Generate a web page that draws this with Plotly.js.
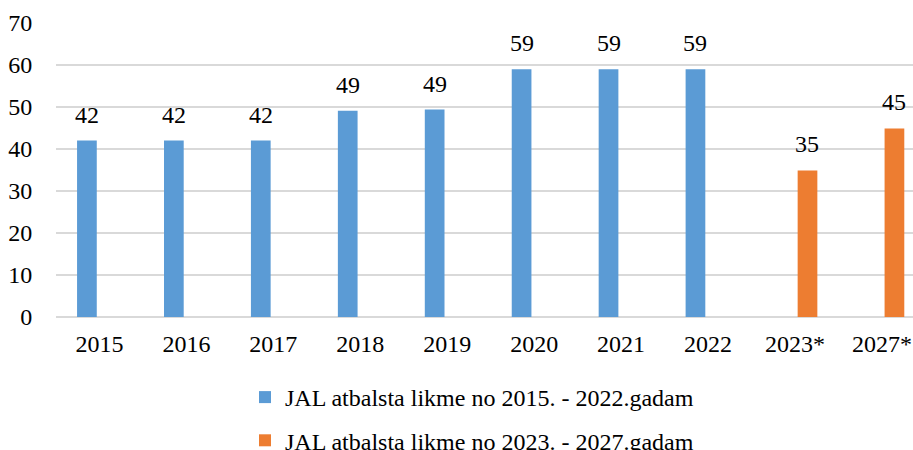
<!DOCTYPE html>
<html>
<head>
<meta charset="utf-8">
<script src="https://cdn.plot.ly/plotly-3.0.1.min.js"></script>
<style>html,body{margin:0;padding:0;background:#fff;}
#chart{width:913px;height:450px;position:relative;z-index:1;background:#fff;}
#fontwarm{position:absolute;left:10px;top:10px;z-index:0;font-family:'Liberation Serif',serif;font-size:24px;color:transparent;}</style>
</head>
<body>
<div id="fontwarm">0</div>
<div id="chart"></div>
<script>
const categories = ['2015','2016','2017','2018','2019','2020','2021','2022','2023*','2027*'];
const seriesA = [42, 42, 42, 49.1, 49.4, 59, 59, 59, null, null];
const seriesB = [null, null, null, null, null, null, null, null, 34.9, 44.9];
const nameA = 'JAL atbalsta likme no 2015. - 2022.gadam';
const nameB = 'JAL atbalsta likme no 2023. - 2027.gadam';
const yTicks = [0, 10, 20, 30, 40, 50, 60, 70];

const FONT = 'Liberation Serif, Times New Roman, serif';
const barW = 0.2267;
const offA = -0.2577, offB = 0.0311;
const pxShift = 12.55;

const traces = [
  {type:'bar', x:categories, y:seriesA, name:nameA, marker:{color:'#5B9BD5'},
   width:barW, offset:offA, legendgroup:'a', hoverinfo:'x+y'},
  {type:'bar', x:categories, y:seriesB, name:nameB, marker:{color:'#ED7D31'},
   width:barW, offset:offB, legendgroup:'b', hoverinfo:'x+y'}
];

const annotations = [];
function addLabels(vals, shift){
  vals.forEach((v,i)=>{
    if(v===null) return;
    annotations.push({x:i, y:v, xref:'x', yref:'y', text:String(Math.round(v)),
      showarrow:false, yanchor:'bottom', xanchor:'center', xshift:shift, yshift:11,
      font:{family:FONT, size:24, color:'#000'}});
  });
}
addLabels(seriesA, -pxShift);
addLabels(seriesB, pxShift);

const layout = {
  width:913, height:450,
  margin:{l:56.3, r:0, t:23, b:133, autoexpand:false},
  paper_bgcolor:'#fff', plot_bgcolor:'#fff',
  font:{family:FONT, size:24, color:'#000'},
  barmode:'group',
  showlegend:true,
  legend:{orientation:'v', x:245/913, xref:'container', xanchor:'left', y:(450-375)/450, yref:'container', yanchor:'top',
          tracegroupgap:9, bgcolor:'rgba(0,0,0,0)', font:{family:FONT, size:24, color:'#000'}},
  xaxis:{type:'category', range:[-0.5, 9.358], showgrid:false, zeroline:false, showline:false,
         ticks:'outside', ticklen:5, tickcolor:'rgba(0,0,0,0)', tickangle:0, fixedrange:true,
         tickfont:{family:FONT, size:24, color:'#000'}},
  yaxis:{range:[0,70], tickvals:yTicks, ticktext:yTicks.map(String), showgrid:true, gridcolor:'#D9D9D9', gridwidth:1.3,
         zeroline:true, zerolinecolor:'#D9D9D9', zerolinewidth:1.3, showline:false,
         ticks:'outside', ticklen:18, tickcolor:'rgba(0,0,0,0)', fixedrange:true,
         tickfont:{family:FONT, size:24, color:'#000'}},
  annotations:annotations
};

function draw(){ Plotly.newPlot('chart', traces, layout, {displayModeBar:false, staticPlot:true}); }
let p;
try { p = document.fonts ? document.fonts.load('24px "Liberation Serif"') : Promise.resolve(); } catch(e) { p = Promise.resolve(); }
p.then(draw, draw);
</script>
</body>
</html>
